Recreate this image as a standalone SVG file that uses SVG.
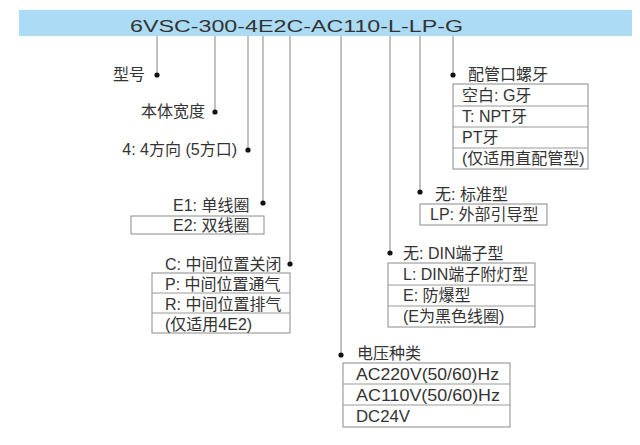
<svg xmlns="http://www.w3.org/2000/svg" width="640" height="445" viewBox="0 0 640 445">
<style>
.t{font-family:"Liberation Sans","Noto Sans CJK SC",sans-serif;font-size:16px;fill:#333}
.e{text-anchor:end}
.b{fill:#fff;stroke:#8a8a8a;stroke-width:1}
.c{stroke:#9a9a9a;stroke-width:1.2;fill:none}
.d{fill:#111}
</style>
<rect width="640" height="445" fill="#fff"/>
<g id="header">
<rect x="19" y="10" width="613" height="26" fill="#acdcf5"/>
<text class="t" x="130" y="32" font-size="19" fill="#222" textLength="333" lengthAdjust="spacingAndGlyphs">6VSC-300-4E2C-AC110-L-LP-G</text>
</g>
<g id="connectors">
<path class="c" d="M157 36V75M215 36V112M248 36V150M263 36V203M290 36V264M341 36V355M390 36V253M420 36V192M453 36V75"/>
<circle class="d" cx="157" cy="75" r="2.6"/>
<circle class="d" cx="215" cy="112" r="2.6"/>
<circle class="d" cx="248" cy="150" r="2.6"/>
<circle class="d" cx="263" cy="203" r="2.6"/>
<circle class="d" cx="290" cy="264" r="2.6"/>
<circle class="d" cx="341" cy="355" r="2.6"/>
<circle class="d" cx="390" cy="253" r="2.6"/>
<circle class="d" cx="420" cy="192" r="2.6"/>
<circle class="d" cx="453" cy="75" r="2.6"/>
</g>
<g id="model">
<text class="t e" x="145" y="80">型号</text>
</g>
<g id="width">
<text class="t e" x="205" y="117">本体宽度</text>
</g>
<g id="direction">
<text class="t e" x="237" y="155">4: 4方向 (5方口)</text>
</g>
<g id="coil">
<text class="t" x="173" y="211">E1: 单线圈</text>
<rect class="b" x="131" y="216" width="133" height="18"/>
<text class="t" x="173" y="231">E2: 双线圈</text>
</g>
<g id="center">
<text class="t" x="165" y="270">C: 中间位置关闭</text>
<rect class="b" x="152" y="273" width="138" height="60"/>
<path class="c" d="M152 293H290M152 313H290" stroke="#8a8a8a"/>
<text class="t" x="165" y="290">P: 中间位置通气</text>
<text class="t" x="165" y="310">R: 中间位置排气</text>
<text class="t" x="165" y="330">(仅适用4E2)</text>
</g>
<g id="voltage">
<text class="t" x="357" y="359">电压种类</text>
<rect class="b" x="343" y="363" width="167" height="64"/>
<path class="c" d="M343 384H510M343 405H510" stroke="#8a8a8a"/>
<text class="t" x="356" y="380" textLength="143" lengthAdjust="spacingAndGlyphs">AC220V(50/60)Hz</text>
<text class="t" x="356" y="401" textLength="144" lengthAdjust="spacingAndGlyphs">AC110V(50/60)Hz</text>
<text class="t" x="356" y="422" textLength="54" lengthAdjust="spacingAndGlyphs">DC24V</text>
</g>
<g id="terminal">
<text class="t" x="403" y="259">无: DIN端子型</text>
<rect class="b" x="388" y="263" width="147" height="64"/>
<path class="c" d="M388 285H535M388 306H535" stroke="#8a8a8a"/>
<text class="t" x="403" y="280">L: DIN端子附灯型</text>
<text class="t" x="403" y="301">E: 防爆型</text>
<text class="t" x="403" y="322">(E为黑色线圈)</text>
</g>
<g id="pilot">
<text class="t" x="435" y="200">无: 标准型</text>
<rect class="b" x="420" y="204" width="127" height="21"/>
<text class="t" x="430" y="220">LP: 外部引导型</text>
</g>
<g id="thread">
<text class="t" x="468" y="80">配管口螺牙</text>
<rect class="b" x="453" y="84" width="135" height="85"/>
<path class="c" d="M453 106H588M453 127H588M453 148H588" stroke="#8a8a8a"/>
<text class="t" x="462" y="101">空白: G牙</text>
<text class="t" x="462" y="122">T: NPT牙</text>
<text class="t" x="462" y="143">PT牙</text>
<text class="t" x="462" y="164">(仅适用直配管型)</text>
</g>
</svg>
